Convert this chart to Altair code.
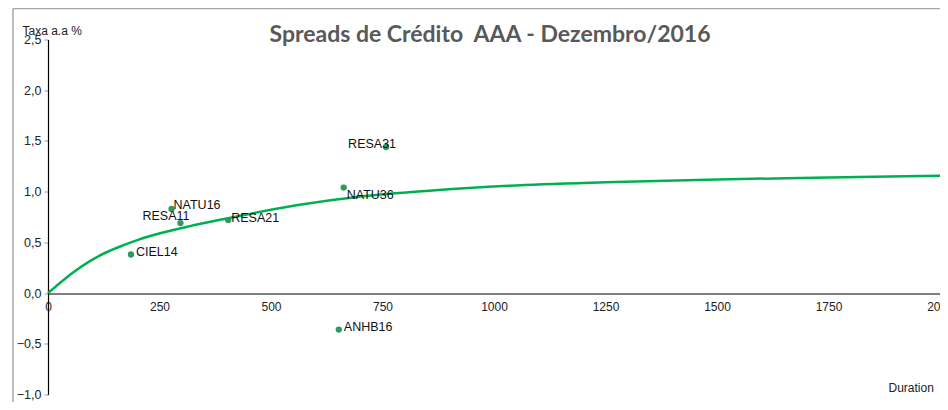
import altair as alt
import pandas as pd

# ---- data ----
bonds = ["CIEL14", "NATU16", "RESA11", "RESA21", "NATU36", "RESA31", "ANHB16"]
duration = [186, 277, 297, 404, 663, 758, 652]
spread = [0.38, 0.83, 0.69, 0.72, 1.04, 1.44, -0.36]

curve_duration = [0, 27, 57, 94, 130, 168, 205, 243, 318, 400, 557, 706, 855, 1034, 1250, 1500, 1750, 2000]
curve_spread = [0.0, 0.10, 0.205, 0.315, 0.40, 0.47, 0.53, 0.58, 0.66, 0.735, 0.865, 0.955, 1.01, 1.058, 1.092, 1.12, 1.14, 1.157]

x_ticks = [0, 250, 500, 750, 1000, 1250, 1500, 1750, 2000]
y_ticks = [-1.0, -0.5, 0.0, 0.5, 1.0, 1.5, 2.0, 2.5]

chart_title = ["Spreads de Crédito\u00a0\u00a0AAA - Dezembro/2016"]

pts = pd.DataFrame({"bond": bonds, "duration": duration, "spread": spread})
crv = pd.DataFrame({"duration": curve_duration, "spread": curve_spread})
ttl = pd.DataFrame({"t": chart_title})

W, H = 892, 355
FONT = "Liberation Sans"

xscale = alt.Scale(domain=[0, 2000], nice=False, zero=False)
yscale = alt.Scale(domain=[-1.0, 2.5], nice=False, zero=False)

xaxis = alt.Axis(
    values=x_ticks, format="d", grid=False, ticks=False,
    offset=-101, domainColor="#000000", domainWidth=1.2,
    labelFont=FONT, labelFontSize=12, labelColor="#222222", labelPadding=8,
    labelFlush=False, labelOverlap=False,
    title="Duration", titleFont=FONT, titleFontSize=12, titleFontWeight="normal",
    titleColor="#222222", titleAnchor="start", titleAlign="left",
    titleX=840, titleY=98, titleBaseline="alphabetic",
)
yaxis = alt.Axis(
    values=y_ticks, grid=False, ticks=True, tickColor="#999999", tickSize=4,
    domainColor="#000000", domainWidth=1.2,
    labelExpr="replace(format(datum.value, '.1f'), '.', ',')",
    labelFont=FONT, labelFontSize=12.5, labelColor="#222222", labelPadding=3,
    labelFlush=False, labelOverlap=False,
    title="Taxa a.a %", titleFont=FONT, titleFontSize=12, titleFontWeight="normal",
    titleColor="#222222", titleAngle=0, titleAlign="left", titleBaseline="alphabetic",
    titleX=-26, titleY=-5,
)

base_x = alt.X("duration:Q", scale=xscale, axis=xaxis)
base_y = alt.Y("spread:Q", scale=yscale, axis=yaxis)

curve = alt.Chart(crv).mark_line(
    color="#00b050", strokeWidth=2.5, interpolate="monotone"
).encode(x=base_x, y=base_y)

points = alt.Chart(pts).mark_circle(size=40, opacity=1, color="#2e9a62").encode(
    x=alt.X("duration:Q", scale=xscale), y=alt.Y("spread:Q", scale=yscale)
)


def labels(names, **kw):
    return alt.Chart(pts).transform_filter(
        alt.FieldOneOfPredicate(field="bond", oneOf=names)
    ).mark_text(font=FONT, fontSize=12.5, color="#111111", baseline="middle", **kw).encode(
        x=alt.X("duration:Q", scale=xscale),
        y=alt.Y("spread:Q", scale=yscale),
        text="bond:N",
    )


lab_right = labels(["CIEL14", "ANHB16"], align="left", dx=5, dy=-3)
lab_r21 = labels(["RESA21"], align="left", dx=3, dy=-2)
lab_n16 = labels(["NATU16"], align="left", dx=2, dy=-4)
lab_r11 = labels(["RESA11"], align="right", dx=9, dy=-7)
lab_n36 = labels(["NATU36"], align="left", dx=3, dy=7)
lab_r31 = labels(["RESA31"], align="right", dx=10, dy=-3)

title = alt.Chart(ttl).mark_text(
    font="Lato", fontSize=23, fontWeight="bold", color="#595959",
    align="center", baseline="alphabetic",
).encode(x=alt.value(442), y=alt.value(2), text="t:N")

# outer chart-area border (top and left edges visible in the reference)
border = alt.Chart(ttl).mark_rule(color="#a6a6a6", strokeWidth=1.5).encode(
    x=alt.value(-35), x2=alt.value(W + 60), y=alt.value(-31), y2=alt.value(-31)
)
border_l = alt.Chart(ttl).mark_rule(color="#a6a6a6", strokeWidth=1.5).encode(
    x=alt.value(-35), x2=alt.value(-35), y=alt.value(-31), y2=alt.value(H + 40)
)

chart = alt.layer(
    border, border_l, curve, points, lab_right, lab_r21, lab_n16, lab_r11, lab_n36, lab_r31, title
).properties(
    width=W, height=H,
    autosize=alt.AutoSizeParams(type="none"),
    padding={"left": 40, "top": 31.5, "right": 0, "bottom": 7},
).configure(background="white", view=alt.ViewConfig(stroke=None))

chart.save("out.html", embed_options={"renderer": "svg", "actions": False})
